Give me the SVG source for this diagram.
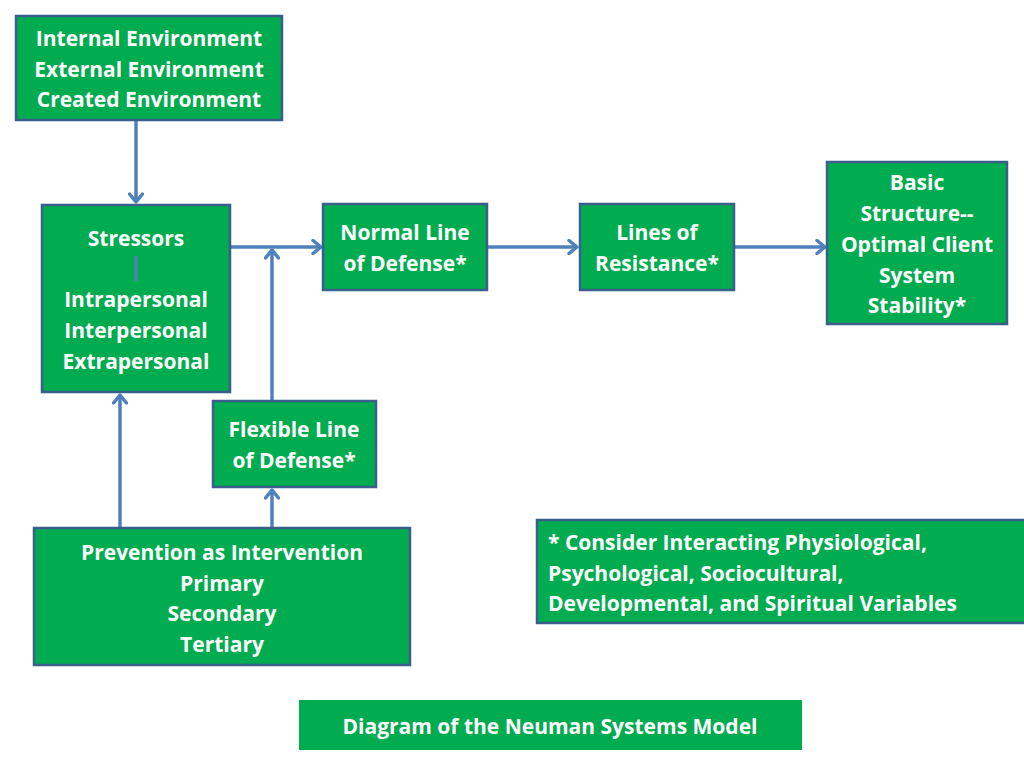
<svg xmlns="http://www.w3.org/2000/svg" width="1024" height="768" viewBox="0 0 1024 768">
<style>
.box{fill:#00AC4F;stroke:#3A5F8C;stroke-width:2.5}
.t{font-family:"Open Sans",Lato,"Liberation Sans",sans-serif;font-weight:700;font-size:21px;fill:#fff;text-anchor:middle;dominant-baseline:central}
.l{text-anchor:start}
.c{stroke:#4F81BD;stroke-width:3.5;fill:none}
</style>
<defs>
<marker id="a" viewBox="0 0 12 16" markerWidth="12" markerHeight="16" refX="10" refY="8" orient="auto" markerUnits="userSpaceOnUse">
<path d="M2,1.5 L10,8 L2,14.5" fill="none" stroke="#4F81BD" stroke-width="3.5" stroke-linecap="round" stroke-linejoin="round"/>
</marker>
</defs>
<rect width="1024" height="768" fill="#fff"/>
<g id="connectors">
<line class="c" x1="136" y1="121" x2="136" y2="202" marker-end="url(#a)"/>
<line class="c" x1="231" y1="247" x2="321" y2="247" marker-end="url(#a)"/>
<line class="c" x1="488" y1="247" x2="577" y2="247" marker-end="url(#a)"/>
<line class="c" x1="735" y1="247" x2="825" y2="247" marker-end="url(#a)"/>
<line class="c" x1="272" y1="400" x2="272" y2="250" marker-end="url(#a)"/>
<line class="c" x1="120" y1="527" x2="120" y2="395" marker-end="url(#a)"/>
<line class="c" x1="272" y1="527" x2="272" y2="490" marker-end="url(#a)"/>
</g>
<g id="environment">
<rect class="box" x="16" y="16" width="266" height="104"/>
<text class="t" x="149" y="38">Internal Environment</text>
<text class="t" x="149" y="69">External Environment</text>
<text class="t" x="149" y="99">Created Environment</text>
</g>
<g id="stressors">
<rect class="box" x="42" y="205" width="188" height="187"/>
<text class="t" x="136" y="238">Stressors</text>
<line x1="136" y1="256" x2="136" y2="281" stroke="#4F81BD" stroke-width="3.5"/>
<text class="t" x="136" y="299">Intrapersonal</text>
<text class="t" x="136" y="330">Interpersonal</text>
<text class="t" x="136" y="361">Extrapersonal</text>
</g>
<g id="normal">
<rect class="box" x="323" y="204" width="164" height="86"/>
<text class="t" x="405" y="232">Normal Line</text>
<text class="t" x="405" y="263">of Defense*</text>
</g>
<g id="resistance">
<rect class="box" x="580" y="204" width="154" height="86"/>
<text class="t" x="657" y="232">Lines of</text>
<text class="t" x="657" y="263">Resistance*</text>
</g>
<g id="basic">
<rect class="box" x="827" y="162" width="180" height="162"/>
<text class="t" x="917" y="182">Basic</text>
<text class="t" x="917" y="213">Structure--</text>
<text class="t" x="917" y="244">Optimal Client</text>
<text class="t" x="917" y="275">System</text>
<text class="t" x="917" y="305">Stability*</text>
</g>
<g id="flexible">
<rect class="box" x="213" y="401" width="163" height="86"/>
<text class="t" x="294" y="429">Flexible Line</text>
<text class="t" x="294" y="460">of Defense*</text>
</g>
<g id="prevention">
<rect class="box" x="34" y="528" width="376" height="137"/>
<text class="t" x="222" y="552">Prevention as Intervention</text>
<text class="t" x="222" y="583">Primary</text>
<text class="t" x="222" y="613">Secondary</text>
<text class="t" x="222" y="644">Tertiary</text>
</g>
<g id="note">
<rect class="box" x="537" y="520" width="490" height="103"/>
<text class="t l" x="548" y="542">* Consider Interacting Physiological,</text>
<text class="t l" x="548" y="573">Psychological, Sociocultural,</text>
<text class="t l" x="548" y="603">Developmental, and Spiritual Variables</text>
</g>
<g id="title">
<rect x="299" y="700" width="503" height="50" fill="#00AC4F"/>
<text class="t" x="550" y="726">Diagram of the Neuman Systems Model</text>
</g>
</svg>
